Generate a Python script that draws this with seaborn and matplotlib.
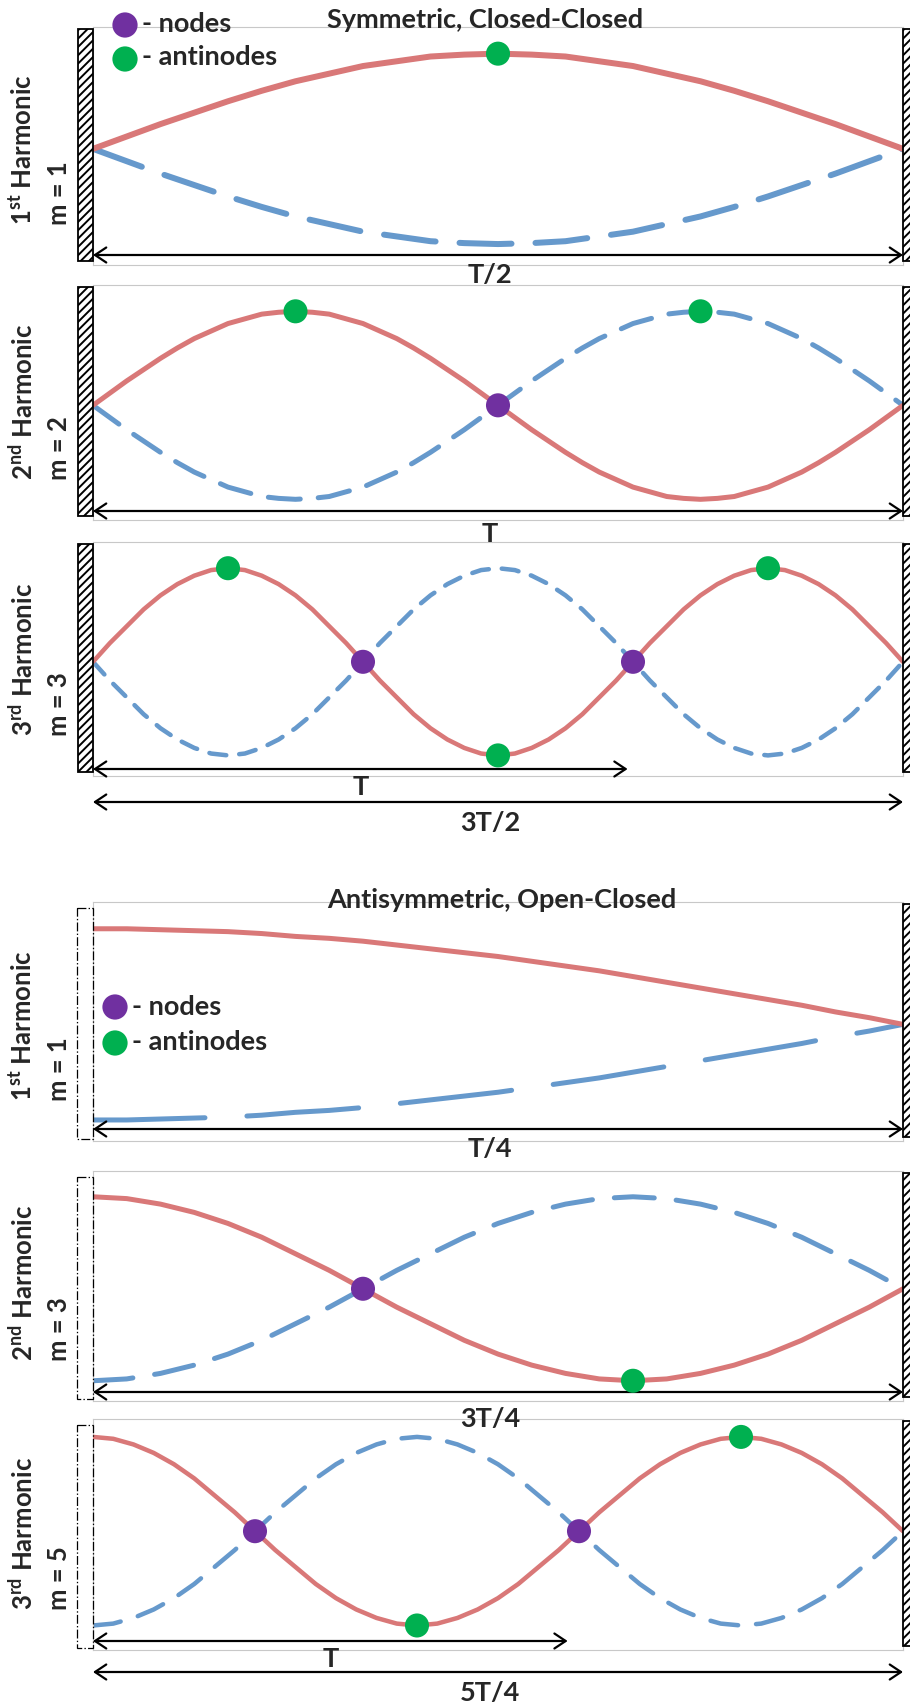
import numpy as np
import seaborn as sns
import matplotlib.pyplot as plt
from matplotlib.patches import Rectangle

sns.set_style('white')
plt.rcParams['font.family'] = ['Lato', 'DejaVu Sans']
plt.rcParams['font.weight'] = 'bold'
plt.rcParams['mathtext.fontset'] = 'custom'
plt.rcParams['mathtext.rm'] = 'Lato:bold'
plt.rcParams['mathtext.it'] = 'Lato:bold'
plt.rcParams['mathtext.bf'] = 'Lato:bold'
plt.rcParams['lines.scale_dashes'] = False
plt.rcParams['hatch.linewidth'] = 1.4

RED = '#d97878'
BLUE = '#6699cc'
PURPLE = '#7030a0'
GREEN = '#00b050'

# ---- mode shapes (x = fraction of span, y = amplitude) ----
# symmetric, closed-closed
x_s1 = np.linspace(0, 1, 25)
red_s1 = [0, .13, .26, .38, .5, .61, .71, .79, .87, .92, .97, .99, 1,
          .99, .97, .92, .87, .79, .71, .61, .5, .38, .26, .13, 0]
blue_s1 = [0, -.13, -.26, -.38, -.5, -.61, -.71, -.79, -.87, -.92, -.97, -.99, -1,
           -.99, -.97, -.92, -.87, -.79, -.71, -.61, -.5, -.38, -.26, -.13, 0]

x_s2 = np.linspace(0, 1, 49)
red_s2 = [0, .13, .26, .38, .5, .61, .71, .79, .87, .92, .97, .99, 1,
          .99, .97, .92, .87, .79, .71, .61, .5, .38, .26, .13, 0,
          -.13, -.26, -.38, -.5, -.61, -.71, -.79, -.87, -.92, -.97, -.99, -1,
          -.99, -.97, -.92, -.87, -.79, -.71, -.61, -.5, -.38, -.26, -.13, 0]
blue_s2 = [0, -.13, -.26, -.38, -.5, -.61, -.71, -.79, -.87, -.92, -.97, -.99, -1,
           -.99, -.97, -.92, -.87, -.79, -.71, -.61, -.5, -.38, -.26, -.13, 0,
           .13, .26, .38, .5, .61, .71, .79, .87, .92, .97, .99, 1,
           .99, .97, .92, .87, .79, .71, .61, .5, .38, .26, .13, 0]

x_s3 = np.linspace(0, 1, 49)
red_s3 = [0, .2, .38, .56, .71, .83, .92, .98, 1, .98, .92, .83, .71, .56, .38, .2, 0,
          -.2, -.38, -.56, -.71, -.83, -.92, -.98, -1, -.98, -.92, -.83, -.71, -.56, -.38, -.2, 0,
          .2, .38, .56, .71, .83, .92, .98, 1, .98, .92, .83, .71, .56, .38, .2, 0]
blue_s3 = [0, -.2, -.38, -.56, -.71, -.83, -.92, -.98, -1, -.98, -.92, -.83, -.71, -.56, -.38, -.2, 0,
           .2, .38, .56, .71, .83, .92, .98, 1, .98, .92, .83, .71, .56, .38, .2, 0,
           -.2, -.38, -.56, -.71, -.83, -.92, -.98, -1, -.98, -.92, -.83, -.71, -.56, -.38, -.2, 0]

# antisymmetric, open-closed
x_a1 = np.linspace(0, 1, 25)
red_a1 = [1, 1, .99, .98, .97, .95, .92, .9, .87, .83, .79, .75, .71,
          .66, .61, .56, .5, .44, .38, .32, .26, .2, .13, .07, 0]
blue_a1 = [-1, -1, -.99, -.98, -.97, -.95, -.92, -.9, -.87, -.83, -.79, -.75, -.71,
           -.66, -.61, -.56, -.5, -.44, -.38, -.32, -.26, -.2, -.13, -.07, 0]

x_a3 = np.linspace(0, 1, 25)
red_a3 = [1, .98, .92, .83, .71, .56, .38, .2, 0, -.2, -.38, -.56, -.71,
          -.83, -.92, -.98, -1, -.98, -.92, -.83, -.71, -.56, -.38, -.2, 0]
blue_a3 = [-1, -.98, -.92, -.83, -.71, -.56, -.38, -.2, 0, .2, .38, .56, .71,
           .83, .92, .98, 1, .98, .92, .83, .71, .56, .38, .2, 0]

x_a5 = np.linspace(0, 1, 41)
red_a5 = [1, .98, .92, .83, .71, .56, .38, .2, 0, -.2, -.38, -.56, -.71, -.83, -.92, -.98, -1,
          -.98, -.92, -.83, -.71, -.56, -.38, -.2, 0, .2, .38, .56, .71, .83, .92, .98, 1,
          .98, .92, .83, .71, .56, .38, .2, 0]
blue_a5 = [-1, -.98, -.92, -.83, -.71, -.56, -.38, -.2, 0, .2, .38, .56, .71, .83, .92, .98, 1,
           .98, .92, .83, .71, .56, .38, .2, 0, -.2, -.38, -.56, -.71, -.83, -.92, -.98, -1,
           -.98, -.92, -.83, -.71, -.56, -.38, -.2, 0]

# nodes / antinodes (x, y)
nodes = [[], [(0.5, 0)], [(1/3, 0), (2/3, 0)],
         [], [(1/3, 0)], [(0.2, 0), (0.6, 0)]]
antinodes = [[(0.5, 1)], [(0.25, 1), (0.75, 1)], [(1/6, 1), (0.5, -1), (5/6, 1)],
             [], [(2/3, -1)], [(0.4, -1), (0.8, 1)]]

# labels
harmonics = ['1$^{st}$ Harmonic', '2$^{nd}$ Harmonic', '3$^{rd}$ Harmonic'] * 2
m_labels = ['m = 1', 'm = 2', 'm = 3', 'm = 1', 'm = 3', 'm = 5']
span_labels = ['T/2', 'T', '3T/2', 'T/4', '3T/4', '5T/4']
sub_span_end = [None, None, 0.66, None, None, 0.586]
curves = [(x_s1, red_s1, blue_s1), (x_s2, red_s2, blue_s2), (x_s3, red_s3, blue_s3),
          (x_a1, red_a1, blue_a1), (x_a3, red_a3, blue_a3), (x_a5, red_a5, blue_a5)]

# ---- layout in pixels ----
W, H = 910, 1707
BL, BR = 93, 903
# top, bottom, arrow y, label baseline, sub arrow y, sub label baseline, line px, dash px, ylim
layout = [
    (27, 265, 255, 283, None, None, 6, (52, 24), (-1.22, 1.28)),
    (285, 520, 511, 542, None, None, 5, (32, 18), (-1.22, 1.28)),
    (542, 776, 802, 831, 769, 795, 4.5, (17, 13), (-1.22, 1.28)),
    (902, 1141, 1129, 1157, None, None, 5, (112, 42), (-1.22, 1.28)),
    (1171, 1401, 1392, 1427, None, None, 5, (40, 22), (-1.22, 1.28)),
    (1419, 1650, 1672, 1701, 1641, 1667, 4.5, (28, 18), (-1.26, 1.19)),
]

def pt(v):
    return v * 0.72

fig = plt.figure(figsize=(W / 100, H / 100), dpi=100)

for i, (top, bot, ay, lb, say, slb, lw, dash, ylim) in enumerate(layout):
    ax = fig.add_axes([BL / W, 1 - bot / H, (BR - BL) / W, (bot - top) / H])
    ax.set_xlim(0, 1)
    ax.set_ylim(*ylim)
    ax.set_xticks([])
    ax.set_yticks([])
    for s in ax.spines.values():
        s.set_color('#c8c8c8')
        s.set_linewidth(0.8)
    xs, red, blue = curves[i]
    sns.lineplot(x=xs, y=blue, ax=ax, color=BLUE, linewidth=pt(lw), errorbar=None,
                 linestyle=(0, (pt(dash[0]), pt(dash[1]))), dash_capstyle='round', zorder=2)
    sns.lineplot(x=xs, y=red, ax=ax, color=RED, linewidth=pt(lw), errorbar=None,
                 solid_capstyle='round', zorder=3)
    if nodes[i]:
        nx, ny = zip(*nodes[i])
        sns.scatterplot(x=list(nx), y=list(ny), ax=ax, color=PURPLE, s=300,
                        edgecolor='none', zorder=5, clip_on=False)
    if antinodes[i]:
        gx, gy = zip(*antinodes[i])
        sns.scatterplot(x=list(gx), y=list(gy), ax=ax, color=GREEN, s=300,
                        edgecolor='none', zorder=5, clip_on=False)
    # span arrows
    arrows = [(1.0, ay)]
    if say is not None:
        arrows.append((sub_span_end[i], say))
    for xe, yy in arrows:
        yf = (bot - yy) / (bot - top)
        ax.annotate('', xy=(xe, yf), xytext=(0, yf), xycoords=('data', 'axes fraction'),
                    textcoords=('data', 'axes fraction'), annotation_clip=False,
                    arrowprops=dict(arrowstyle='<->,head_length=0.45,head_width=0.3',
                                    lw=1.6, color='black', shrinkA=0, shrinkB=0,
                                    mutation_scale=18), zorder=4)

# overlay in pixel coords for walls, texts and legend
over = fig.add_axes([0, 0, 1, 1], zorder=10)
over.set_xlim(0, W)
over.set_ylim(H, 0)
over.axis('off')
over.patch.set_visible(False)

FS = 19.5
FS_Y = 18.5
for i, (top, bot, ay, lb, say, slb, lw, dash, ylim) in enumerate(layout):
    # right wall (closed)
    over.add_patch(Rectangle((BR, top + 2), 16, bot - top - 6, facecolor='white',
                             edgecolor='black', hatch='////', lw=1.3, clip_on=False))
    if i < 3:
        over.add_patch(Rectangle((78, top + 2), 15, bot - top - 6, facecolor='white',
                                 edgecolor='black', hatch='////', lw=1.3))
    else:
        over.add_patch(Rectangle((77, top + 6), 16, bot - top - 8, facecolor='none',
                                 edgecolor='black', linestyle='-.', lw=0.9))
    # y labels
    over.text(33, bot - 40, harmonics[i], rotation=90, rotation_mode='anchor',
              ha='left', va='baseline', fontsize=FS_Y, fontweight='bold')
    over.text(67, bot - 40, m_labels[i], rotation=90, rotation_mode='anchor',
              ha='left', va='baseline', fontsize=FS_Y, fontweight='bold')
    # span labels
    over.text(490, lb, span_labels[i], ha='center', va='baseline', fontsize=FS, fontweight='bold')
    if slb is not None:
        xm = BL + (BR - BL) * sub_span_end[i] / 2
        over.text(xm, slb, 'T', ha='center', va='baseline', fontsize=FS, fontweight='bold')

over.text(327, 28, 'Symmetric, Closed-Closed', ha='left', va='baseline',
          fontsize=FS, fontweight='bold')
over.text(327, 908, 'Antisymmetric, Open-Closed', ha='left', va='baseline',
          fontsize=FS, fontweight='bold')

# legends
for (cx, cy1, cy2, tx, b1, b2) in [(125, 25, 59, 142, 32, 65), (115, 1007, 1043, 132, 1015, 1050)]:
    sns.scatterplot(x=[cx], y=[cy1], ax=over, color=PURPLE, s=330, edgecolor='none')
    sns.scatterplot(x=[cx], y=[cy2], ax=over, color=GREEN, s=330, edgecolor='none')
    over.text(tx, b1, '- nodes', ha='left', va='baseline', fontsize=FS, fontweight='bold')
    over.text(tx, b2, '- antinodes', ha='left', va='baseline', fontsize=FS, fontweight='bold')

fig.savefig('out.png', dpi=100)
